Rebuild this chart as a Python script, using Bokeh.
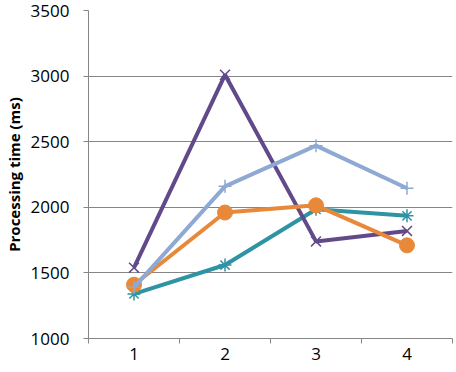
from bokeh.plotting import figure
from bokeh.models import FixedTicker, Range1d
from bokeh.embed import file_html
from bokeh.resources import INLINE

categories = [1, 2, 3, 4]
tick_labels = ["1", "2", "3", "4"]
purple_vals = [1540, 3010, 1740, 1820]
teal_vals = [1340, 1560, 1985, 1935]
orange_vals = [1410, 1960, 2015, 1710]
lightblue_vals = [1390, 2160, 2470, 2145]

p = figure(width=455, height=368, output_backend="svg", toolbar_location=None,
           x_range=Range1d(0.5, 4.5), y_range=Range1d(1000, 3500),
           min_border_left=87, min_border_right=3, min_border_top=10, min_border_bottom=30)
p.outline_line_color = None
p.background_fill_color = "white"
p.border_fill_color = "white"

grey = "#868686"
font = "Open Sans"

p.xgrid.grid_line_color = None
p.ygrid.grid_line_color = grey
p.ygrid.grid_line_width = 1
p.ygrid.ticker = FixedTicker(ticks=[1000, 1500, 2000, 2500, 3000, 3500])

p.yaxis.ticker = FixedTicker(ticks=[1000, 1500, 2000, 2500, 3000, 3500])
p.yaxis.axis_line_color = grey
p.yaxis.major_tick_line_color = grey
p.yaxis.major_tick_in = 0
p.yaxis.major_tick_out = 5
p.yaxis.minor_tick_line_color = None
p.yaxis.major_label_standoff = 14
p.yaxis.major_label_text_font = font
p.yaxis.major_label_text_font_size = "17px"
p.yaxis.major_label_text_color = "black"
p.yaxis.axis_label = "Processing time (ms)"
p.yaxis.axis_label_text_font = font
p.yaxis.axis_label_text_font_size = "15px"
p.yaxis.axis_label_text_font_style = "bold"
p.yaxis.axis_label_text_color = "black"
p.yaxis.axis_label_standoff = 4

p.xaxis.ticker = FixedTicker(ticks=categories, minor_ticks=[0.5, 1.5, 2.5, 3.5, 4.5])
p.xaxis.major_label_overrides = {c: l for c, l in zip(categories, tick_labels)}
p.xaxis.axis_line_color = grey
p.xaxis.major_tick_line_color = None
p.xaxis.major_tick_out = 5
p.xaxis.major_tick_in = 0
p.xaxis.minor_tick_line_color = grey
p.xaxis.minor_tick_in = 0
p.xaxis.minor_tick_out = 5
p.xaxis.major_label_standoff = 4
p.xaxis.major_label_text_font = font
p.xaxis.major_label_text_font_size = "17px"
p.xaxis.major_label_text_color = "black"

c_teal = "#2E93A3"
c_purple = "#624A8A"
c_orange = "#E8893A"
c_lb = "#8EA9D4"

p.line(categories, teal_vals, line_color=c_teal, line_width=4)
p.scatter(categories, teal_vals, marker="asterisk", size=13, line_color=c_teal, line_width=1.5)

p.line(categories, purple_vals, line_color=c_purple, line_width=4)
p.scatter(categories, purple_vals, marker="x", size=14, line_color=c_purple, line_width=1.5)

p.line(categories, orange_vals, line_color=c_orange, line_width=4)
p.scatter(categories, orange_vals, marker="circle", size=15, fill_color=c_orange, line_color=c_orange)

p.line(categories, lightblue_vals, line_color=c_lb, line_width=4)
p.scatter(categories, lightblue_vals, marker="cross", size=13, line_color=c_lb, line_width=1.5)

open("out.html", "w").write(file_html(p, INLINE))
